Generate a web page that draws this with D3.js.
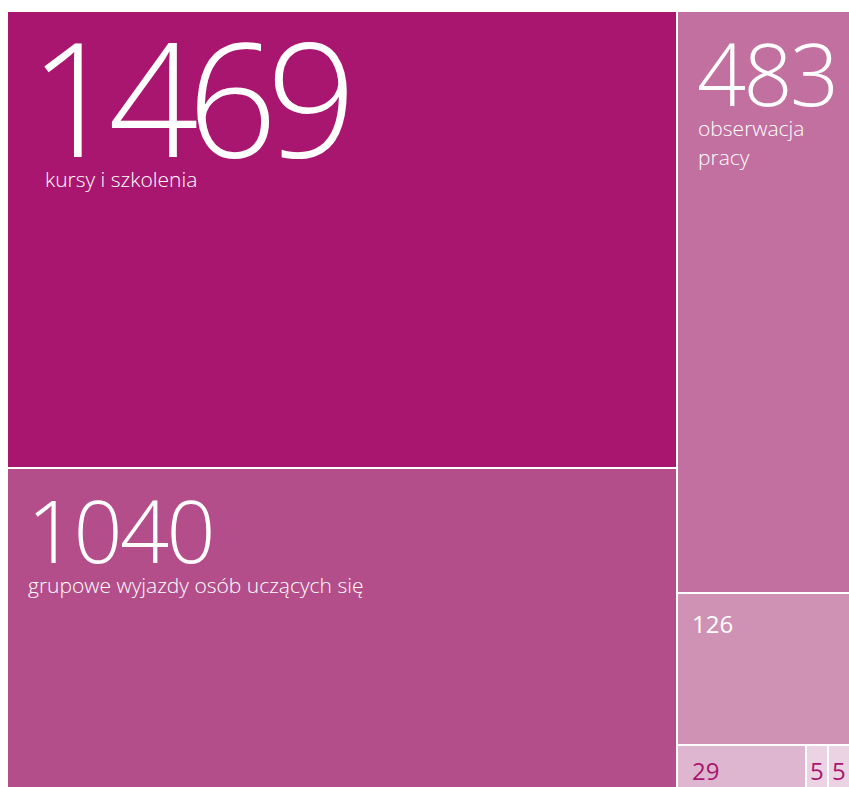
<!DOCTYPE html>
<html>
<head>
<meta charset="utf-8">
<script src="https://cdn.jsdelivr.net/npm/d3@7"></script>
<style>
  html, body { margin: 0; padding: 0; background: #ffffff; }
  svg { display: block; }
</style>
</head>
<body>
<svg id="chart" width="849" height="787"></svg>
<script>
// Mobility types and participant counts
const values = [1469, 1040, 483, 126, 29, 5, 5];
const labels = ["kursy i szkolenia", "grupowe wyjazdy osób uczących się", "obserwacja pracy", "", "", "", ""];
const fills = ["#a8166f", "#b44e8a", "#c2709f", "#cf92b5", "#deb6cf", "#ebd3e3", "#ebd3e3"];
const inkColors = ["#ffffff", "#ffffff", "#ffffff", "#ffffff", "#a8166f", "#a8166f", "#a8166f"];

const marginLeft = 8, marginTop = 12;
const treeW = 841, treeH = 779;

const svg = d3.select("#chart");

const data = values.map((v, i) => ({ value: v, label: labels[i], fill: fills[i], ink: inkColors[i], idx: i }));

const root = d3.hierarchy({ children: data })
  .sum(d => d.value || 0)
  .sort((a, b) => b.value - a.value);

d3.treemap()
  .tile(d3.treemapSquarify)
  .size([treeW, treeH])
  .paddingInner(2)
  .round(true)(root);

// Typographic tiers keyed on the value
const numSize = d3.scaleThreshold().domain([400, 1400]).range([24, 86, 158]);
const numTrack = d3.scaleThreshold().domain([400, 1400]).range([0, -0.03, -0.07]);
const numPad = d3.scaleThreshold().domain([400, 1400]).range([14, 19, 21]);
const labelPad = d3.scaleThreshold().domain([1400]).range([20, 37]);

const g = svg.append("g").attr("transform", `translate(${marginLeft},${marginTop})`);

const cell = g.selectAll("g.cell")
  .data(root.leaves())
  .join("g")
  .attr("class", "cell")
  .attr("transform", d => `translate(${d.x0},${d.y0})`);

cell.append("rect")
  .attr("width", d => d.x1 - d.x0)
  .attr("height", d => d.y1 - d.y0)
  .attr("fill", d => d.data.fill);

const font = "'Source Sans Pro', 'Open Sans', 'Noto Sans', sans-serif";

cell.each(function (d) {
  const s = numSize(d.value);
  const sel = d3.select(this);
  const w = d.x1 - d.x0;
  if (s > 50) {
    const baseline = s * 0.7 + 34;
    sel.append("text")
      .attr("x", numPad(d.value))
      .attr("y", baseline)
      .attr("fill", d.data.ink)
      .style("font-family", font)
      .style("font-weight", 300)
      .style("font-size", s + "px")
      .style("letter-spacing", (s * numTrack(d.value)) + "px")
      .text(d.value);
    // category name, wrapped to the cell width
    const lx = labelPad(d.value);
    const words = d.data.label.split(" ");
    const t = sel.append("text")
      .attr("fill", d.data.ink)
      .style("font-family", font)
      .style("font-weight", 300)
      .style("font-size", "21px");
    let line = [], lineNo = 0;
    let tspan = t.append("tspan").attr("x", lx).attr("y", baseline + 30);
    words.forEach(wd => {
      line.push(wd);
      tspan.text(line.join(" "));
      if (tspan.node().getComputedTextLength() > w - lx - 10 && line.length > 1) {
        line.pop();
        tspan.text(line.join(" "));
        line = [wd];
        lineNo++;
        tspan = t.append("tspan").attr("x", lx).attr("y", baseline + 30 + lineNo * 29).text(wd);
      }
    });
  } else {
    const small = w < 40;
    sel.append("text")
      .attr("x", small ? 3 : 14)
      .attr("y", Math.min(39, d.y1 - d.y0 - 11))
      .attr("fill", d.data.ink)
      .style("font-family", font)
      .style("font-weight", 400)
      .style("font-size", s + "px")
      .text(d.value);
  }
});
</script>
</body>
</html>
